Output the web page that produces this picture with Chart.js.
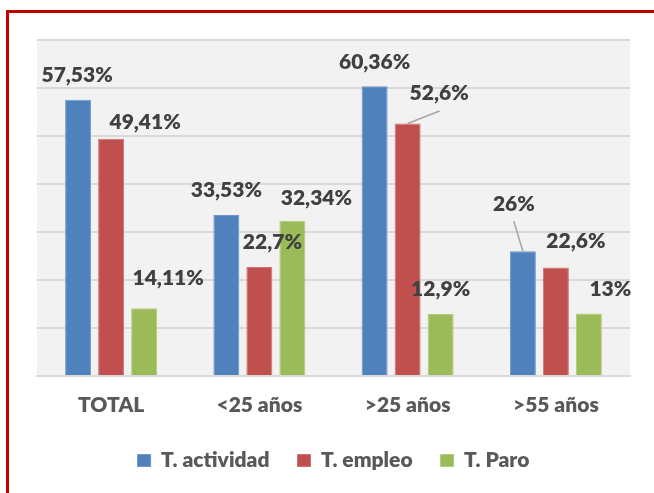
<!DOCTYPE html>
<html>
<head>
<meta charset="utf-8">
<script src="https://cdn.jsdelivr.net/npm/chart.js@4/dist/chart.umd.min.js"></script>
<style>
html,body{margin:0;padding:0;background:#fff;}
#wrap{position:relative;width:654px;height:493px;overflow:hidden;background:#fff;}
#c{position:absolute;left:0;top:0;}
#frame{position:absolute;left:6px;top:10px;width:700px;height:600px;border-left:3px solid #c00000;border-top:3px solid #c00000;box-sizing:border-box;pointer-events:none;}
</style>
</head>
<body>
<div id="wrap">
<canvas id="c" width="654" height="493"></canvas>
<div id="frame"></div>
</div>
<script>
// ---- data ----
const categories = ['TOTAL', '<25 años', '>25 años', '>55 años'];
const seriesNames = ['T. actividad', 'T. empleo', 'T. Paro'];
const actividad = [57.53, 33.53, 60.36, 26];
const empleo = [49.41, 22.7, 52.6, 22.6];
const paro = [14.11, 32.34, 12.9, 13];
const yMin = 0, yMax = 70, yStep = 10;

// ---- label placement (pixel offsets from bar top centre) ----
const labelOffsets = [
  [[-1, -24.5], [0, -25], [0, -24.5], [-9, -47]],
  [[34, -16.5], [13, -24.5], [31.5, -30], [20, -26]],
  [[24, -30], [24, -23], [0, -25], [21.5, -24.5]]
];
// [datasetIndex, pointIndex, startDx, startDy]
const leaderLines = [[1, 2, 32, -12.5], [0, 3, -9, -30]];

const colors = ['#4f81bd', '#c0504d', '#9bbb59'];
const borders = ['#6e98cc', '#cf7471', '#b0cc7a'];
const FONT = 'Lato';
const WEIGHT = '800';

function fmt(v) { return String(v).replace('.', ',') + '%'; }

const plotBg = {
  id: 'plotBg',
  beforeDraw(chart) {
    const a = chart.chartArea, ctx = chart.ctx;
    ctx.save();
    ctx.fillStyle = '#f2f2f2';
    ctx.fillRect(a.left, a.top - 1, a.right - a.left, a.bottom - a.top + 1);
    ctx.restore();
  }
};

const valueLabels = {
  id: 'valueLabels',
  afterDatasetsDraw(chart) {
    const ctx = chart.ctx;
    ctx.save();
    ctx.strokeStyle = '#a6a6a6';
    ctx.lineWidth = 1.5;
    leaderLines.forEach(([d, i, dx, dy]) => {
      const el = chart.getDatasetMeta(d).data[i];
      ctx.beginPath();
      ctx.moveTo(el.x + dx, el.y + dy);
      ctx.lineTo(el.x, el.y);
      ctx.stroke();
    });
    ctx.font = WEIGHT + ' 21px ' + FONT;
    ctx.fillStyle = '#404040';
    ctx.textAlign = 'center';
    ctx.textBaseline = 'middle';
    chart.data.datasets.forEach((ds, d) => {
      chart.getDatasetMeta(d).data.forEach((el, i) => {
        const [dx, dy] = labelOffsets[d][i];
        ctx.fillText(fmt(ds.data[i]), el.x + dx, el.y + dy);
      });
    });
    ctx.restore();
  }
};

const seriesData = [actividad, empleo, paro];

new Chart(document.getElementById('c'), {
  type: 'bar',
  data: {
    labels: categories,
    datasets: seriesNames.map((n, k) => ({
      label: n,
      data: seriesData[k],
      backgroundColor: colors[k],
      borderColor: borders[k],
      borderWidth: 1,
      categoryPercentage: 0.668,
      barPercentage: 0.788
    }))
  },
  options: {
    responsive: false,
    animation: false,
    devicePixelRatio: 1,
    layout: { padding: { left: 37, right: 24, top: 40, bottom: 12 } },
    plugins: {
      tooltip: { enabled: false },
      legend: {
        position: 'bottom',
        labels: {
          boxWidth: 13,
          boxHeight: 12,
          padding: 28,
          color: '#595959',
          font: { family: FONT, weight: WEIGHT, size: 21 }
        }
      }
    },
    scales: {
      x: {
        grid: { display: false, drawTicks: false },
        border: { display: true, color: '#d9d9d9', width: 2 },
        ticks: {
          color: '#595959',
          padding: 17,
          font: { family: FONT, weight: WEIGHT, size: 21 }
        },
        afterFit(s) { s.height = 46; }
      },
      y: {
        min: yMin,
        max: yMax,
        ticks: { display: false, stepSize: yStep },
        grid: { color: '#d9d9d9', lineWidth: 2, drawTicks: false },
        border: { display: false },
        afterFit(s) { s.width = 0; }
      }
    }
  },
  plugins: [plotBg, valueLabels]
});
</script>
</body>
</html>
